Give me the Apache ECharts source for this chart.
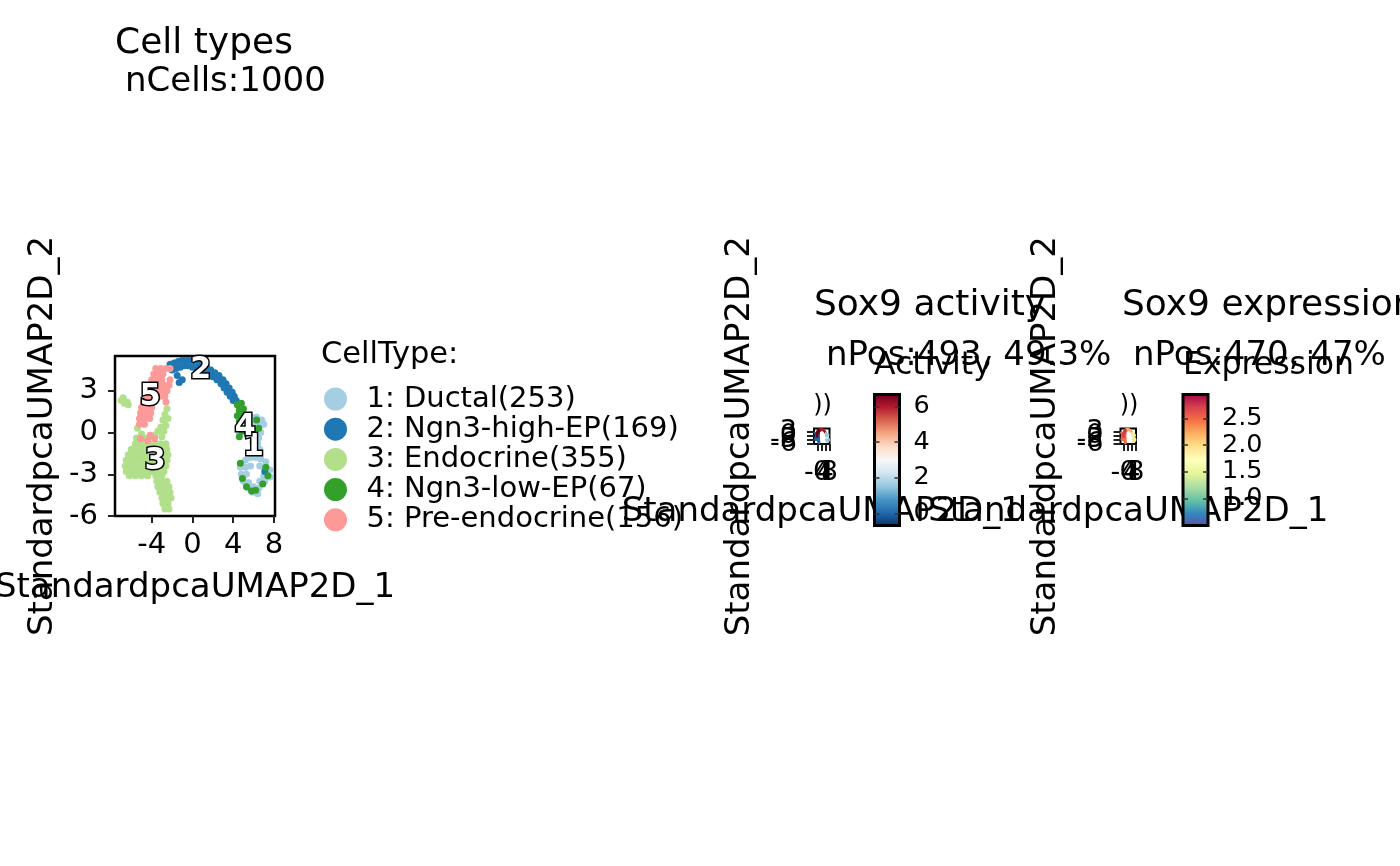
<!DOCTYPE html>
<html>
<head>
<meta charset="utf-8">
<title>Cell types</title>
<script src="https://cdn.jsdelivr.net/npm/echarts@6.0.0/dist/echarts.min.js"></script>
<style>
  html, body { margin: 0; padding: 0; background: #fff; }
  #main { width: 1400px; height: 866px; }
</style>
</head>
<body>
<div id="main"></div>
<script>
var FONT = 'DejaVu Sans';

// cell type categories (legend order) and their colours
var cellTypes = ['1: Ductal(253)', '2: Ngn3-high-EP(169)', '3: Endocrine(355)', '4: Ngn3-low-EP(67)', '5: Pre-endocrine(156)'];
var cellColors = ['#A6CEE3', '#1F78B4', '#B2DF8A', '#33A02C', '#FB9A99'];

// UMAP coordinates, one array per cell type
var ductalPts = [
    [5.3, 1.0], [5.8, 1.1], [6.3, 1.1], [6.8, 0.9], [5.5, 0.6], [6.0, 0.6], [6.6, 0.5], [7.0, 0.6],
    [5.2, 0.2], [5.7, 0.2], [6.2, 0.1], [6.7, 0.0], [4.6, 0.0], [5.4, -0.2], [6.0, -0.3], [6.5, -0.4],
    [5.9, -0.7], [6.4, -0.8], [6.1, -1.1], [6.6, -1.2], [6.3, -1.5],
    [5.2, -2.0], [5.7, -1.8], [6.2, -1.8], [6.7, -1.9], [7.2, -2.1], [4.7, -2.5], [5.2, -2.5], [5.7, -2.4],
    [6.6, -2.4], [7.1, -2.6], [7.6, -2.7], [4.8, -3.0], [5.3, -3.0], [7.0, -3.1], [7.6, -3.2], [5.0, -3.5],
    [5.5, -3.6], [6.6, -3.5], [7.1, -3.5], [5.5, -4.0], [6.0, -3.9], [6.5, -4.0], [5.9, -4.3], [6.4, -4.4]
];
var ngn3HighPts = [
    [-2.2, 4.9], [-1.8, 5.0], [-1.4, 5.1], [-1.0, 5.2], [-0.6, 5.2], [-0.2, 5.2], [0.2, 5.1], [0.6, 5.0],
    [1.0, 4.9], [1.4, 4.7], [1.8, 4.5], [2.2, 4.3], [2.6, 4.1], [3.0, 3.8], [3.3, 3.5], [3.6, 3.2],
    [3.9, 2.9], [4.1, 2.6], [4.3, 2.3],
    [-2.0, 4.5], [-1.6, 4.6], [-1.2, 4.7], [-0.8, 4.8], [-0.4, 4.8], [0.0, 4.7], [0.4, 4.6], [0.8, 4.5],
    [1.2, 4.3], [1.6, 4.2], [2.0, 4.0], [2.4, 3.8], [2.8, 3.5], [3.1, 3.2], [3.4, 2.9], [3.7, 2.6], [4.0, 2.3],
    [-1.5, 4.1], [-1.0, 3.8], [-1.3, 3.6], [7.1, -2.8]
];
var endocrinePts = [
    [-7.0, 2.3], [-6.7, 2.1], [-6.4, 2.2], [-6.8, 2.5], [-6.3, 2.0],
    [-2.5, 1.7], [-2.7, 1.3], [-2.4, 1.0], [-2.9, 0.9], [-2.6, 0.5], [-3.1, 0.4], [-3.4, 0.1], [-2.8, 0.1],
    [-3.7, -0.2], [-3.0, -0.3],
    [-5.4, 0.3], [-5.0, -0.1], [-5.5, -0.4], [-4.7, -0.4], [-4.2, -0.3],
    [-5.6, -0.8], [-5.1, -0.8], [-4.6, -0.8], [-4.1, -0.8], [-3.6, -0.8], [-3.1, -0.8], [-2.6, -0.8],
    [-6.0, -1.2], [-5.5, -1.2], [-5.0, -1.2], [-4.5, -1.2], [-4.0, -1.2], [-3.5, -1.2], [-3.0, -1.2], [-2.5, -1.2],
    [-6.3, -1.6], [-5.8, -1.6], [-5.3, -1.6], [-4.8, -1.6], [-4.3, -1.6], [-3.8, -1.6], [-3.3, -1.6], [-2.8, -1.6], [-2.4, -1.6],
    [-6.5, -2.0], [-6.0, -2.0], [-5.5, -2.0], [-5.0, -2.0], [-4.5, -2.0], [-4.0, -2.0], [-3.5, -2.0], [-3.0, -2.0], [-2.5, -2.0],
    [-6.6, -2.4], [-6.1, -2.4], [-5.6, -2.4], [-5.1, -2.4], [-4.6, -2.4], [-4.1, -2.4], [-3.6, -2.4], [-3.1, -2.4], [-2.6, -2.4],
    [-6.5, -2.8], [-6.0, -2.8], [-5.5, -2.8], [-5.0, -2.8], [-4.5, -2.8], [-4.0, -2.8], [-3.4, -2.8], [-2.8, -2.8],
    [-6.2, -3.1], [-5.6, -3.1], [-5.0, -3.1], [-4.4, -3.1], [-3.6, -3.1], [-3.0, -3.1],
    [-3.5, -3.5], [-3.0, -3.5], [-2.5, -3.5], [-3.4, -3.9], [-2.9, -3.9], [-2.3, -3.9], [-3.2, -4.3], [-2.7, -4.3],
    [-2.2, -4.3], [-3.0, -4.7], [-2.5, -4.7], [-2.1, -4.7], [-2.9, -5.1], [-2.4, -5.1], [-2.7, -5.5], [-2.3, -5.5]
];
var ngn3LowPts = [
    [4.4, 2.0], [4.8, 2.1], [4.6, 1.6], [5.0, 1.7], [4.4, 1.2], [4.9, 1.3], [4.6, 0.8], [5.1, 0.9],
    [4.5, 0.4], [4.9, 0.1], [4.6, -0.3], [6.3, 0.9], [6.5, 0.3], [4.7, -2.2], [5.3, -3.9], [5.8, -4.2],
    [6.2, -4.15], [6.9, -3.7], [7.4, -3.1], [7.2, -2.5], [4.9, -3.3]
];
var preEndoPts = [
    [-3.6, 4.6], [-3.1, 4.6], [-2.6, 4.6], [-2.2, 4.6],
    [-3.8, 4.2], [-3.3, 4.2], [-2.9, 4.2],
    [-4.0, 3.8], [-3.5, 3.8], [-3.0, 3.8], [-2.2, 3.8],
    [-4.2, 3.4], [-3.7, 3.4], [-3.2, 3.4], [-2.7, 3.4], [-2.3, 3.4],
    [-4.4, 3.0], [-3.9, 3.0], [-3.4, 3.0], [-2.9, 3.0], [-2.5, 3.0],
    [-4.6, 2.6], [-4.1, 2.6], [-3.6, 2.6], [-3.1, 2.6], [-2.7, 2.6],
    [-4.8, 2.2], [-4.3, 2.2], [-3.8, 2.2], [-2.6, 2.2],
    [-5.0, 1.8], [-4.5, 1.8], [-4.0, 1.8],
    [-5.1, 1.4], [-4.6, 1.4], [-4.1, 1.4],
    [-5.2, 1.0], [-4.7, 1.0], [-4.2, 1.0],
    [-5.2, 0.6], [-4.7, 0.6],
    [-5.1, -0.45], [-4.15, -0.2], [-3.7, -0.45], [-4.4, -0.6]
];
var clusterPts = [ductalPts, ngn3HighPts, endocrinePts, ngn3LowPts, preEndoPts];
var drawOrder = [2, 0, 1, 4, 3];

// cluster number labels [x, y, text]
var clusterLabels = [[5.98, -1.04, '1'], [0.82, 4.49, '2'], [-3.66, -2.04, '3'], [5.17, 0.4, '4'], [-4.15, 2.56, '5']];

// axes
var umapXRange = [-7.6, 8.1];
var umapYRange = [-6, 5.5];
var umapXTicks = [-4, 0, 4, 8];
var umapYTicks = [-6, -3, 0, 3];

// colour bars
var activityRange = [-0.69, 6.69];
var activityTicks = [0, 2, 4, 6];
var expressionRange = [0.49, 2.946];
var expressionTicks = [1.0, 1.5, 2.0, 2.5];

var rdbuTopDown = ['#67001F', '#B2182B', '#D6604D', '#F4A582', '#FDDBC7', '#F7F7F7', '#D1E5F0', '#92C5DE', '#4393C3', '#2166AC', '#053061'];
var spectralTopDown = ['#9E0142', '#D53E4F', '#F46D43', '#FDAE61', '#FEE08B', '#FFFFBF', '#E6F598', '#ABDDA4', '#66C2A5', '#3288BD', '#5E4FA2'];
// rough per-type colours in the tiny feature plots
var activityTypeColors = ['#D1E5F0', '#B2182B', '#2166AC', '#92C5DE', '#67001F'];
var expressionTypeColors = ['#FEE08B', '#FDAE61', '#F46D43', '#E6F598', '#D53E4F'];

function gradient(stops) {
    return new echarts.graphic.LinearGradient(0, 0, 0, 1, stops.map(function (c, i) {
        return { offset: i / (stops.length - 1), color: c };
    }));
}

function umapAxis(dim, grid, opts) {
    var isY = dim === 'y';
    var ax = {
        type: 'value', gridIndex: grid,
        min: isY ? umapYRange[0] : umapXRange[0], max: isY ? umapYRange[1] : umapXRange[1],
        position: isY ? 'left' : 'bottom',
        axisLine: { show: false, onZero: false },
        splitLine: { show: false },
        axisTick: {
            show: !!opts.ticks, customValues: opts.ticks || [], length: 7,
            lineStyle: { color: '#222', width: 2 }
        },
        axisLabel: {
            show: !!opts.labels, customValues: opts.labels || [], margin: isY ? 17 : 15,
            fontSize: opts.size, fontFamily: FONT, color: '#000',
            hideOverlap: false, showMinLabel: true, showMaxLabel: true
        }
    };
    if (opts.gap) {
        ax.name = isY ? 'StandardpcaUMAP2D_2' : 'StandardpcaUMAP2D_1';
        ax.nameLocation = 'middle';
        ax.nameGap = opts.gap;
        ax.nameRotate = isY ? 90 : 0;
        ax.nameTextStyle = { fontSize: 34, fontFamily: FONT, color: '#000' };
    }
    return ax;
}
function barAxis(grid, range, ticks, pos, showLabel, fmt) {
    return {
        type: 'value', gridIndex: grid, min: range[0], max: range[1], position: pos, z: 10,
        axisLine: { show: false, onZero: false },
        splitLine: { show: false },
        axisTick: { show: true, inside: true, customValues: ticks, length: 5, lineStyle: { color: '#333', width: 1.5 } },
        axisLabel: {
            show: showLabel, customValues: ticks, margin: 14, fontSize: 25.5, fontFamily: FONT, color: '#000',
            hideOverlap: false, formatter: fmt
        }
    };
}
function barSeries(xIdx, yIdx, range, stops) {
    return {
        type: 'custom', xAxisIndex: xIdx, yAxisIndex: yIdx, clip: false, z: 3,
        data: [[0, range[0], 1, range[1]]],
        renderItem: function (params, api) {
            var p0 = api.coord([api.value(0), api.value(1)]);
            var p1 = api.coord([api.value(2), api.value(3)]);
            return {
                type: 'rect',
                shape: { x: p0[0], y: p1[1], width: p1[0] - p0[0], height: p0[1] - p1[1] },
                style: { fill: gradient(stops), stroke: '#000', lineWidth: 3 }
            };
        }
    };
}

var xAxes = [
    umapAxis('x', 0, { ticks: umapXTicks, labels: umapXTicks, size: 29, gap: 55 }),
    umapAxis('x', 1, { ticks: umapXTicks, size: 27, gap: 51 }),
    umapAxis('x', 2, { ticks: umapXTicks, size: 27, gap: 51 }),
    { type: 'value', gridIndex: 3, min: 0, max: 1, show: false },
    { type: 'value', gridIndex: 4, min: 0, max: 1, show: false }
];
var yAxes = [
    umapAxis('y', 0, { ticks: umapYTicks, labels: umapYTicks, size: 29, gap: 55 }),
    umapAxis('y', 1, { ticks: umapYTicks, size: 27, gap: 57 }),
    umapAxis('y', 2, { ticks: umapYTicks, size: 27, gap: 57 }),
    barAxis(3, activityRange, activityTicks, 'left', false),
    barAxis(3, activityRange, activityTicks, 'right', true),
    barAxis(4, expressionRange, expressionTicks, 'left', false),
    barAxis(4, expressionRange, expressionTicks, 'right', true, function (v) { return v.toFixed(1); })
];
// the tiny plots squeeze all tick labels together; one axis per label keeps them all drawn
[1, 2].forEach(function (g) {
    umapXTicks.forEach(function (v) { xAxes.push(umapAxis('x', g, { labels: [v], size: 27 })); });
    umapYTicks.forEach(function (v) { yAxes.push(umapAxis('y', g, { labels: [v], size: 27 })); });
});

var series = [];
drawOrder.forEach(function (i) {
    series.push({
        name: cellTypes[i], type: 'scatter', xAxisIndex: 0, yAxisIndex: 0,
        data: clusterPts[i], symbolSize: 7, itemStyle: { color: cellColors[i], opacity: 1 }
    });
});
series.push({
    name: 'labels', type: 'scatter', xAxisIndex: 0, yAxisIndex: 0, z: 10,
    data: clusterLabels, symbolSize: 1, itemStyle: { color: 'rgba(0,0,0,0)' },
    label: {
        show: true, position: 'inside', formatter: function (p) { return p.value[2]; },
        fontSize: 30, fontWeight: 'bold', fontFamily: FONT, color: '#ffffff', opacity: 1,
        textBorderColor: '#000', textBorderWidth: 3
    }
});
drawOrder.forEach(function (i) {
    series.push({
        name: 'act' + i, type: 'scatter', xAxisIndex: 1, yAxisIndex: 1,
        data: clusterPts[i], symbolSize: 2, itemStyle: { color: activityTypeColors[i] }
    });
    series.push({
        name: 'expr' + i, type: 'scatter', xAxisIndex: 2, yAxisIndex: 2,
        data: clusterPts[i], symbolSize: 2, itemStyle: { color: expressionTypeColors[i] }
    });
});
series.push(barSeries(3, 3, activityRange, rdbuTopDown));
series.push(barSeries(4, 5, expressionRange, spectralTopDown));

function txt(x, y, s, size, align) {
    return {
        type: 'text', x: x, y: y,
        style: { text: s, fontSize: size, fontFamily: FONT, fill: '#000', verticalAlign: 'middle', align: align || 'left' }
    };
}

function plotGrid(l, t, w, h, bw) {
    return {
        left: l, top: t, width: w, height: h, show: bw > 0, borderColor: '#000', borderWidth: bw,
        backgroundColor: 'transparent', containLabel: false, outerBoundsMode: 'none'
    };
}

var option = {
    animation: false,
    backgroundColor: '#fff',
    grid: [
        plotGrid(115, 356, 160, 160, 2.5),
        plotGrid(814, 428.5, 15.5, 15.5, 2),
        plotGrid(1120.5, 428.5, 15.5, 15.5, 2),
        plotGrid(874.5, 394.5, 25, 131, 0),
        plotGrid(1183, 394.5, 25, 131, 0)
    ],
    xAxis: xAxes,
    yAxis: yAxes,
    legend: {
        data: cellTypes, orient: 'vertical', left: 324, top: 384,
        icon: 'circle', itemWidth: 52, itemHeight: 23, itemGap: 0.2, padding: 0,
        selectedMode: false,
        textStyle: { fontSize: 29, fontFamily: FONT, color: '#000', lineHeight: 30 }
    },
    graphic: [
        txt(115, 44, 'Cell types', 36),
        txt(125, 82, 'nCells:1000', 34),
        txt(321, 355, 'CellType:', 30.5),
        txt(814, 306, 'Sox9 activity', 36),
        txt(826, 356, 'nPos:493, 49.3%', 34),
        txt(1122, 306, 'Sox9 expression', 36),
        txt(1133, 356, 'nPos:470, 47%', 34),
        txt(874, 366, 'Activity', 31.5),
        txt(1183, 366, 'Expression', 31.5),
        txt(822.5, 406, '))', 24, 'center'),
        txt(1129, 406, '))', 24, 'center')
    ],
    series: series
};

var myChart = echarts.init(document.getElementById('main'));
myChart.setOption(option);
</script>
</body>
</html>
